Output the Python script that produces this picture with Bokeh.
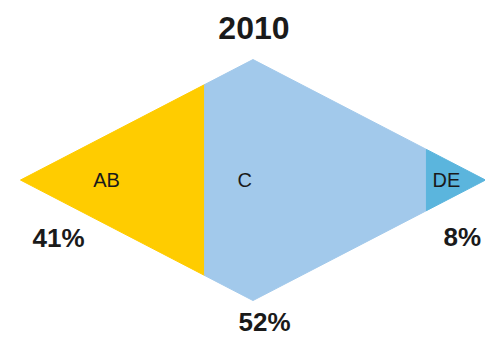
from bokeh.plotting import figure
from bokeh.models import ColumnDataSource, Range1d
from bokeh.core.properties import value
from bokeh.embed import file_html
from bokeh.resources import INLINE

# --- data ---
title = "2010"
categories = ["AB", "C", "DE"]
shares = [41, 52, 8]                 # percent labels
# section boundaries along the diamond's long axis (tip = 0, tip = 100)
splits = [0, 39.6, 87.3, 100]
colors = ["#FFCC00", "#A2C9EB", "#5BB5DD"]


def half_height(x):
    return x / 50.0 if x <= 50 else (100.0 - x) / 50.0


def section(x0, x1):
    xs = [x0]
    ys = [half_height(x0)]
    if x0 < 50 < x1:
        xs.append(50.0); ys.append(1.0)
    xs.append(x1); ys.append(half_height(x1))
    xs_b = [x1]
    ys_b = [-half_height(x1)]
    if x0 < 50 < x1:
        xs_b.append(50.0); ys_b.append(-1.0)
    xs_b.append(x0); ys_b.append(-half_height(x0))
    return xs + xs_b, ys + ys_b


xs_all, ys_all = [], []
for i in range(len(categories)):
    sx, sy = section(splits[i], splits[i + 1])
    xs_all.append(sx)
    ys_all.append(sy)

shape_src = ColumnDataSource(dict(xs=xs_all, ys=ys_all, color=colors))

p = figure(width=485, height=338, output_backend="svg", toolbar_location=None,
           x_range=Range1d(-4.3, 100.0), y_range=Range1d(-1.315, 1.49),
           min_border=0)
p.axis.visible = False
p.grid.visible = False
p.outline_line_color = None
p.background_fill_color = "white"
p.border_fill_color = "white"

p.patches("xs", "ys", source=shape_src, fill_color="color", line_color="color",
          line_width=1)

# category names inside the sections
name_x = [18.5, 48.2, 91.6]
name_y = [0.0, 0.0, 0.0]
p.text(x=name_x, y=name_y, text=categories, text_align="center",
       text_baseline="middle", text_font=value("Liberation Sans"),
       text_font_size="20px", text_color="#1a1a1a")

# percentage labels
pct_x = [8.2, 52.5, 95.0]
pct_y = [-0.48, -1.175, -0.47]
p.text(x=pct_x, y=pct_y, text=[f"{v}%" for v in shares], text_align="center",
       text_baseline="middle", text_font=value("Liberation Sans"),
       text_font_size="26px", text_font_style="bold", text_color="#1a1a1a")

# heading
p.text(x=[50.2], y=[1.265], text=[title], text_align="center",
       text_baseline="middle", text_font=value("Liberation Sans"),
       text_font_size="32px", text_font_style="bold", text_color="#1a1a1a")

open("out.html", "w").write(file_html(p, INLINE))
